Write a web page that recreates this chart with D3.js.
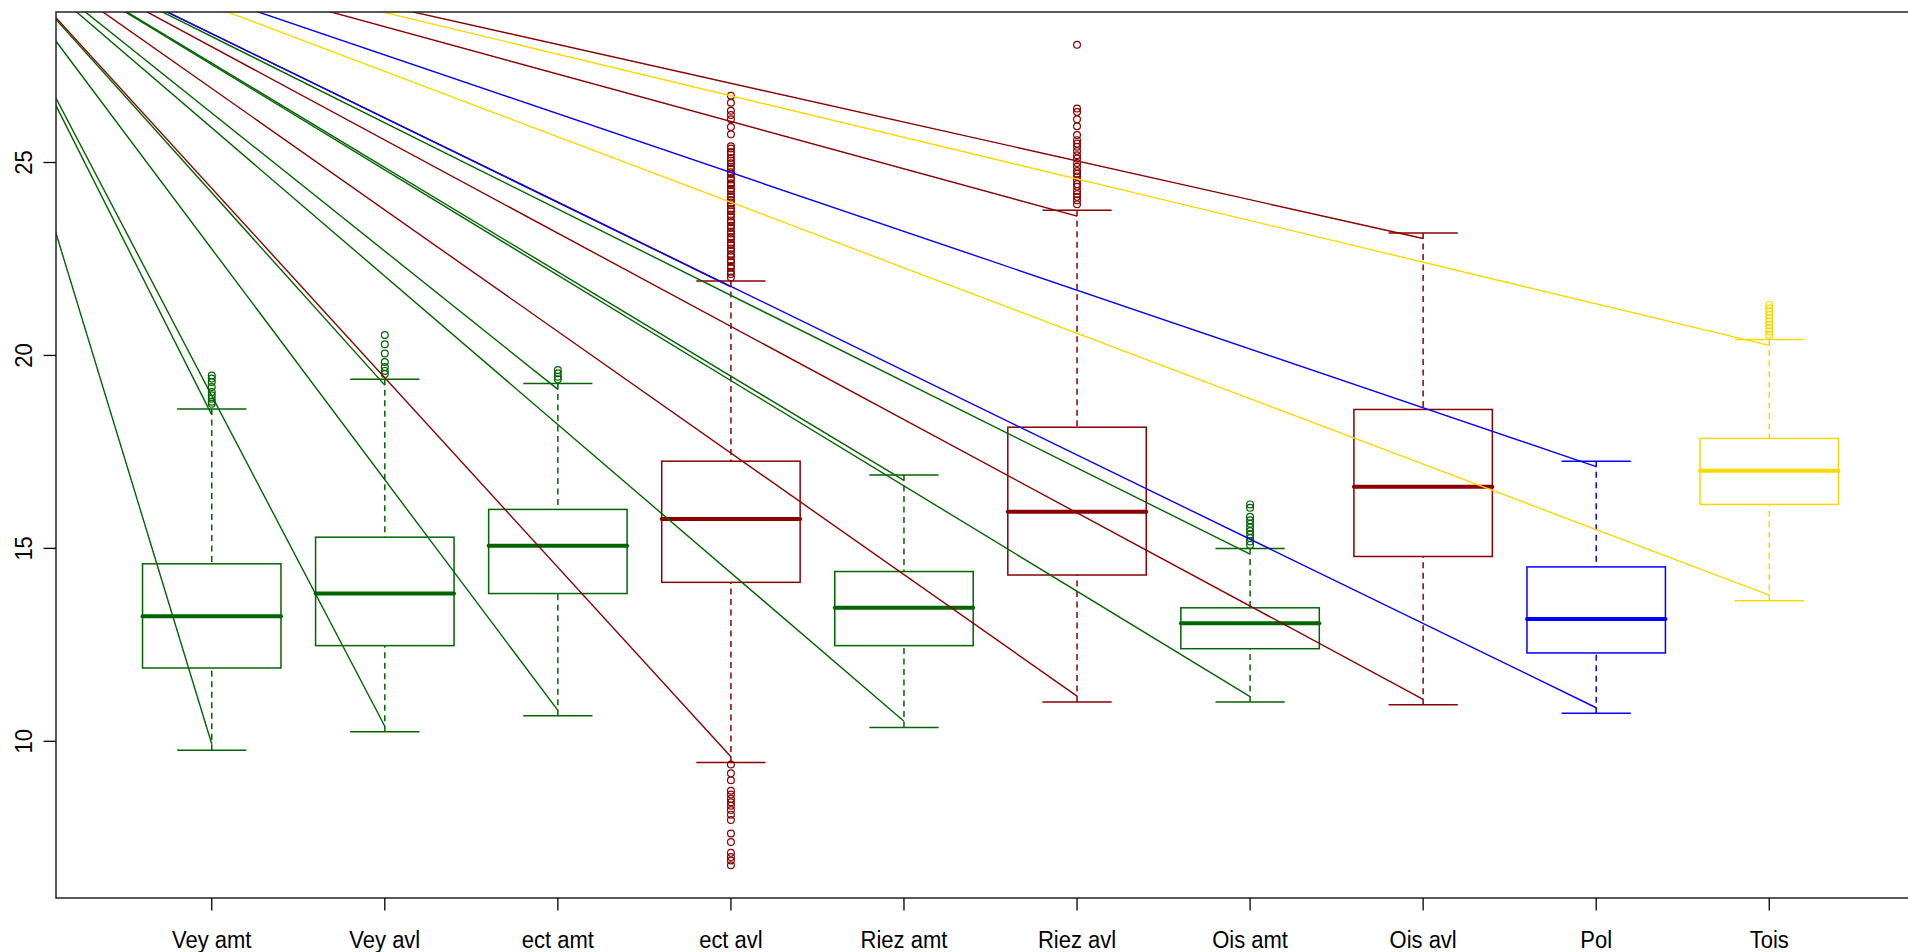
<!DOCTYPE html>
<html>
<head>
<meta charset="utf-8">
<script src="https://cdn.jsdelivr.net/npm/d3@7"></script>
<style>
  html, body { margin: 0; padding: 0; background: #ffffff; }
  svg { display: block; }
  text { font-family: "Liberation Sans", Arial, Helvetica, sans-serif; fill: #000; }
</style>
</head>
<body>
<svg id="chart" width="1908" height="952"></svg>
<script>
// ---------------- data ----------------
const categories = ["Vey amt", "Vey avl", "ect amt", "ect avl", "Riez amt",
                    "Riez avl", "Ois amt", "Ois avl", "Pol", "Tois"];
const boxColors = ["#006400", "#006400", "#006400", "#8B0000", "#006400",
                   "#8B0000", "#006400", "#8B0000", "#0000FF", "#FFD700"];

const lowerWhisker = [9.77, 10.25, 10.66, 9.45, 10.36, 11.02, 11.02, 10.95, 10.73, 13.64];
const q1Values     = [11.90, 12.48, 13.83, 14.12, 12.48, 14.31, 12.40, 14.79, 12.29, 16.14];
const medianValues = [13.24, 13.83, 15.07, 15.76, 13.46, 15.95, 13.06, 16.60, 13.17, 17.01];
const q3Values     = [14.60, 15.29, 16.01, 17.26, 14.40, 18.14, 13.46, 18.60, 14.52, 17.85];
const upperWhisker = [18.61, 19.38, 19.27, 21.93, 16.90, 23.76, 15.00, 23.17, 17.26, 20.41];

const outliersVeyAmt  = [19.48, 19.40, 19.31, 19.18, 19.05, 18.97, 18.88, 18.80, 18.75];
const outliersVeyAvl  = [20.53, 20.29, 20.05, 19.83, 19.70, 19.60, 19.52];
const outliersEctAmt  = [19.62, 19.54, 19.45, 19.38];
const outliersEctAvl  = [26.73, 26.55, 26.34, 26.23, 26.12, 25.92, 25.73,
  25.42, 25.36, 25.27, 25.21, 25.12, 25.05, 24.98, 24.89, 24.84, 24.75, 24.70, 24.60,
  24.56, 24.46, 24.41, 24.32, 24.26, 24.17, 24.11, 24.03, 23.95, 23.89, 23.80, 23.74,
  23.65, 23.60, 23.50, 23.45, 23.36, 23.30, 23.21, 23.16, 23.07, 23.01, 22.92, 22.86,
  22.77, 22.71, 22.62, 22.57, 22.47, 22.42, 22.32, 22.27, 22.17, 22.11, 22.02,
  9.40, 9.17, 8.99, 8.72, 8.62, 8.51, 8.42, 8.33, 8.22, 8.10, 7.96, 7.61, 7.39,
  7.11, 7.00, 6.91, 6.79];
const outliersRiezAmt = [];
const outliersRiezAvl = [28.05, 26.40, 26.31, 26.12, 25.94, 25.71, 25.58, 25.49, 25.41,
  25.30, 25.19, 25.10, 24.99, 24.89, 24.78, 24.71, 24.64, 24.54, 24.44, 24.37, 24.26,
  24.18, 24.11, 24.02, 23.92];
const outliersOisAmt  = [16.14, 16.05, 15.82, 15.73, 15.64, 15.54, 15.45, 15.36, 15.27, 15.18, 15.09];
const outliersOisAvl  = [];
const outliersPol     = [];
const outliersTois    = [21.31, 21.22, 21.14, 21.05, 20.96, 20.88, 20.79, 20.70, 20.62, 20.53];

const outlierValues = [outliersVeyAmt, outliersVeyAvl, outliersEctAmt, outliersEctAvl,
  outliersRiezAmt, outliersRiezAvl, outliersOisAmt, outliersOisAvl, outliersPol, outliersTois];

// fan of lines: all start at one point (top-left, outside the plot) and end near whisker ends
const fanOriginX = -0.47;
const fanOriginY = 31.55;
const fanUpperEnds = [18.46, 19.23, 19.12, 21.78, 16.76, 23.61, 14.85, 23.03, 17.12, 20.26];
const fanLowerEnds = [9.93, 10.39, 10.80, 9.60, 10.52, 11.17, 11.16, 11.09, 10.87, 13.79];

const yTicks = [10, 15, 20, 25];

// ---------------- layout ----------------
const margin = { left: 56, top: 12 };
const plotW = 1869, plotH = 886;
const nCat = categories.length;

const allVals = [].concat(lowerWhisker, upperWhisker, ...outlierValues);
const yMin = d3.min(allVals), yMax = d3.max(allVals);
const yPad = (yMax - yMin) * 0.04;

const x = d3.scaleLinear()
  .domain([0.5 - nCat * 0.04, nCat + 0.5 + nCat * 0.04])
  .range([margin.left, margin.left + plotW]);
const y = d3.scaleLinear()
  .domain([yMin - yPad, yMax + yPad])
  .range([margin.top + plotH, margin.top]);

const svg = d3.select("#chart");

svg.append("defs").append("clipPath").attr("id", "plotClip")
  .append("rect")
  .attr("x", margin.left).attr("y", margin.top)
  .attr("width", plotW).attr("height", plotH);

const boxHalf = 0.4, stapleHalf = 0.2;
const data = categories.map((c, i) => ({
  name: c, pos: i + 1, color: boxColors[i],
  lo: lowerWhisker[i], q1: q1Values[i], med: medianValues[i], q3: q3Values[i], hi: upperWhisker[i],
  out: outlierValues[i], fanUp: fanUpperEnds[i], fanLo: fanLowerEnds[i]
}));

const gBox = svg.append("g");
data.forEach(d => {
  const g = gBox.append("g");
  const cx = x(d.pos);
  // whiskers (dashed), drawn from the whisker end towards the box
  g.append("line").attr("x1", cx).attr("x2", cx).attr("y1", y(d.lo)).attr("y2", y(d.q1))
    .attr("stroke", d.color).attr("stroke-width", 1.5).attr("stroke-dasharray", "6,4.5");
  g.append("line").attr("x1", cx).attr("x2", cx).attr("y1", y(d.hi)).attr("y2", y(d.q3))
    .attr("stroke", d.color).attr("stroke-width", 1.5).attr("stroke-dasharray", "6,4.5");
  // staples
  [d.lo, d.hi].forEach(v => {
    g.append("line")
      .attr("x1", x(d.pos - stapleHalf)).attr("x2", x(d.pos + stapleHalf))
      .attr("y1", y(v)).attr("y2", y(v))
      .attr("stroke", d.color).attr("stroke-width", 1.5);
  });
  // box
  g.append("rect")
    .attr("x", x(d.pos - boxHalf)).attr("y", y(d.q3))
    .attr("width", x(d.pos + boxHalf) - x(d.pos - boxHalf))
    .attr("height", y(d.q1) - y(d.q3))
    .attr("fill", "none").attr("stroke", d.color).attr("stroke-width", 1.5);
  // median
  g.append("line")
    .attr("x1", x(d.pos - boxHalf)).attr("x2", x(d.pos + boxHalf))
    .attr("y1", y(d.med)).attr("y2", y(d.med))
    .attr("stroke", d.color).attr("stroke-width", 4).attr("stroke-linecap", "round");
  // outliers
  g.selectAll("circle").data(d.out).enter().append("circle")
    .attr("cx", cx).attr("cy", v => y(v)).attr("r", 3.4)
    .attr("fill", "none").attr("stroke", d.color).attr("stroke-width", 1.2);
});

// fan lines
const gFan = svg.append("g").attr("clip-path", "url(#plotClip)");
data.forEach(d => {
  [d.fanUp, d.fanLo].forEach(v => {
    gFan.append("line")
      .attr("x1", x(fanOriginX)).attr("y1", y(fanOriginY))
      .attr("x2", x(d.pos)).attr("y2", y(v))
      .attr("stroke", d.color).attr("stroke-width", 1.4);
  });
});

// frame
svg.append("rect")
  .attr("x", margin.left).attr("y", margin.top)
  .attr("width", plotW).attr("height", plotH)
  .attr("fill", "none").attr("stroke", "#222").attr("stroke-width", 1.5);

// y axis ticks + labels
const gy = svg.append("g");
yTicks.forEach(t => {
  gy.append("line").attr("x1", margin.left).attr("x2", margin.left - 12.5)
    .attr("y1", y(t)).attr("y2", y(t)).attr("stroke", "#000").attr("stroke-width", 1.3);
  gy.append("text")
    .attr("transform", `translate(${margin.left - 23.7},${y(t)}) rotate(-90) scale(1,1.07)`)
    .attr("text-anchor", "middle").attr("font-size", 22).text(t);
});

// x axis ticks + labels
const gx = svg.append("g");
data.forEach(d => {
  gx.append("line").attr("x1", x(d.pos)).attr("x2", x(d.pos))
    .attr("y1", margin.top + plotH).attr("y2", margin.top + plotH + 12.5)
    .attr("stroke", "#000").attr("stroke-width", 1.3);
  gx.append("text")
    .attr("transform", `translate(${x(d.pos)},${margin.top + plotH + 50}) scale(1,1.07)`)
    .attr("text-anchor", "middle").attr("font-size", 22).text(d.name);
});
</script>
</body>
</html>
